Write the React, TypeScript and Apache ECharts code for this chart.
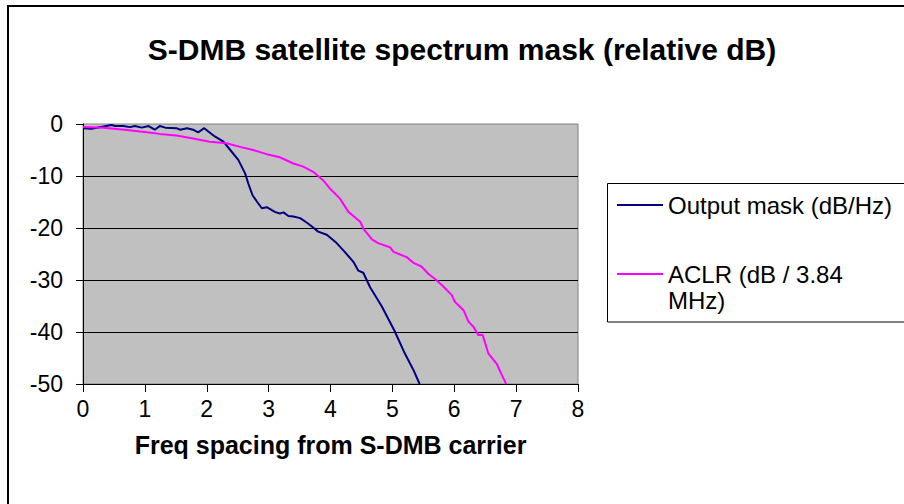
import React, { useEffect, useRef } from "react";
import * as echarts from "echarts";

const titleText = "S-DMB satellite spectrum mask (relative dB)";
const xAxisName = "Freq spacing from S-DMB carrier";
const seriesNames = ["Output mask (dB/Hz)", "ACLR (dB / 3.84 MHz)"];

const maskFreq = [0, 0.14, 0.33, 0.46, 0.52, 0.65, 0.76, 0.84, 0.95, 1.06, 1.16, 1.24, 1.33, 1.51, 1.57, 1.68, 1.78, 1.86, 1.96, 2.03, 2.13, 2.27, 2.38, 2.51, 2.62, 2.67, 2.74, 2.81, 2.89, 2.97, 3.1, 3.18, 3.24, 3.32, 3.4, 3.51, 3.62, 3.72, 3.8, 3.94, 4.1, 4.23, 4.37, 4.45, 4.53, 4.64, 4.83, 5.04, 5.2, 5.34, 5.44];
const maskDb = [-0.8, -0.9, -0.5, -0.2, -0.4, -0.4, -0.6, -0.4, -0.7, -0.4, -1.1, -0.4, -0.7, -0.8, -1.1, -0.8, -1.1, -1.6, -0.8, -1.5, -2.4, -3.4, -5.0, -6.9, -9.5, -11.4, -13.7, -14.9, -16.2, -16.0, -16.9, -17.2, -17.0, -17.7, -17.8, -18.1, -19.0, -19.9, -20.7, -21.3, -22.9, -24.6, -26.5, -28.2, -28.6, -31.4, -35.1, -39.9, -44.1, -47.3, -50];

const aclrFreq = [0, 0.33, 0.71, 1.03, 1.24, 1.51, 1.78, 2.05, 2.32, 2.54, 2.75, 2.97, 3.18, 3.4, 3.56, 3.72, 3.88, 3.99, 4.15, 4.29, 4.38, 4.48, 4.53, 4.67, 4.77, 4.96, 5.02, 5.23, 5.34, 5.47, 5.58, 5.69, 5.82, 5.96, 6.01, 6.15, 6.23, 6.31, 6.39, 6.46, 6.55, 6.69, 6.77, 6.84];
const aclrDb = [-0.6, -0.7, -1.15, -1.6, -1.9, -2.2, -2.8, -3.4, -3.7, -4.4, -5.0, -5.8, -6.4, -7.6, -8.2, -9.2, -10.8, -12.4, -14.3, -16.9, -17.8, -18.8, -20.1, -22.2, -22.9, -23.7, -24.6, -25.6, -26.7, -27.4, -28.8, -29.8, -31.2, -32.9, -34.2, -35.8, -38.0, -39.0, -40.6, -40.6, -44.1, -46.2, -48.3, -50];

const FONT = "'Liberation Sans', Arial, sans-serif";
const colors = ["#000080", "#FF00FF"];

export default function App() {
  const ref = useRef<HTMLDivElement>(null);
  useEffect(() => {
    if (!ref.current) return;
    const chart = echarts.init(ref.current, null, { renderer: "svg" });
    const maskData = maskFreq.map((f, i) => [f, maskDb[i]]);
    const aclrData = aclrFreq.map((f, i) => [f, aclrDb[i]]);
    chart.setOption({
      animation: false,
      backgroundColor: "#ffffff",
      textStyle: { fontFamily: FONT, color: "#000" },
      title: {
        text: titleText,
        left: 457,
        top: 29,
        textAlign: "center",
        textStyle: { fontFamily: FONT, fontSize: 30, fontWeight: "bold", color: "#000" },
      },
      grid: {
        left: 83,
        top: 124,
        width: 495,
        height: 260,
        show: true,
        backgroundColor: "#C0C0C0",
        borderColor: "#808080",
        borderWidth: 1,
      },
      xAxis: {
        type: "value",
        min: 0,
        max: 8,
        interval: 1,
        name: xAxisName,
        nameLocation: "middle",
        nameGap: 48,
        nameTextStyle: { fontFamily: FONT, fontSize: 25, fontWeight: "bold", color: "#000" },
        axisLine: { show: true, onZero: false, lineStyle: { color: "#000", width: 1 } },
        axisTick: { show: true, inside: false, length: 8, lineStyle: { color: "#000" } },
        axisLabel: { fontFamily: FONT, fontSize: 23, color: "#000", margin: 13 },
        splitLine: { show: false },
      },
      yAxis: {
        type: "value",
        min: -50,
        max: 0,
        interval: 10,
        axisLine: { show: true, onZero: false, lineStyle: { color: "#000", width: 1 } },
        axisTick: { show: true, inside: false, length: 7, lineStyle: { color: "#000" } },
        axisLabel: { fontFamily: FONT, fontSize: 23, color: "#000", margin: 20 },
        splitLine: { show: true, showMaxLine: false, showMinLine: false, lineStyle: { color: "#000", width: 1 } },
      },
      series: [
        {
          name: seriesNames[0],
          type: "line",
          data: maskData,
          showSymbol: false,
          symbol: "none",
          lineStyle: { color: colors[0], width: 2 },
          itemStyle: { color: colors[0] },
        },
        {
          name: seriesNames[1],
          type: "line",
          data: aclrData,
          showSymbol: false,
          symbol: "none",
          lineStyle: { color: colors[1], width: 2 },
          itemStyle: { color: colors[1] },
        },
      ],
      graphic: [
        {
          type: "rect",
          shape: { x: 8, y: 6, width: 920, height: 520 },
          style: { fill: "none", stroke: "#000", lineWidth: 2 },
          silent: true,
        },
        {
          type: "rect",
          shape: { x: 607.5, y: 183.5, width: 320, height: 138.5 },
          style: { fill: "#fff", stroke: "#000", lineWidth: 1 },
          silent: true,
        },
        {
          type: "line",
          shape: { x1: 617, y1: 205, x2: 663, y2: 205 },
          style: { stroke: colors[0], lineWidth: 2 },
        },
        {
          type: "text",
          x: 668,
          y: 205,
          style: { text: seriesNames[0], font: `24px ${FONT}`, fill: "#000", verticalAlign: "middle" },
        },
        {
          type: "line",
          shape: { x1: 617, y1: 274, x2: 663, y2: 274 },
          style: { stroke: colors[1], lineWidth: 2 },
        },
        {
          type: "text",
          x: 668,
          y: 274,
          style: { text: "ACLR (dB / 3.84", font: `24px ${FONT}`, fill: "#000", verticalAlign: "middle" },
        },
        {
          type: "text",
          x: 668,
          y: 300,
          style: { text: "MHz)", font: `24px ${FONT}`, fill: "#000", verticalAlign: "middle" },
        },
      ],
    });
    return () => chart.dispose();
  }, []);
  return (
    <div
      ref={ref}
      style={{ position: "fixed", left: 0, top: 0, width: 904, height: 504 }}
    />
  );
}
